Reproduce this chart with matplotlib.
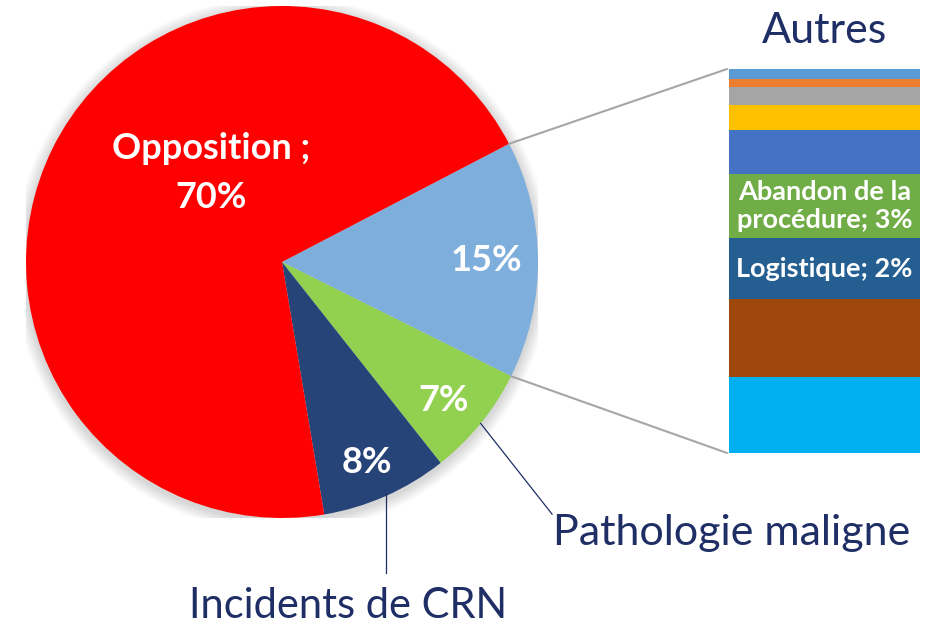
import matplotlib.pyplot as plt
import numpy as np
from matplotlib.patches import ConnectionPatch, Circle

plt.rcParams["font.family"] = ["Lato", "DejaVu Sans"]

# main pie, clockwise from the "Autres" wedge
pie_labels = ["Autres", "Pathologie maligne", "Incidents de CRN", "Opposition"]
pie_values = [15, 7, 8, 70]
pie_colors = ["#7eaedc", "#92d050", "#264478", "#ff0000"]

# breakdown of "Autres", stacked from the bottom up
bar_values = [2.95, 3.05, 2.4, 2.5, 1.7, 1.0, 0.7, 0.3, 0.4]
bar_colors = ["#00b0f0", "#9e480e", "#255e91", "#70ad47", "#4472c4",
              "#ffc000", "#a5a5a5", "#ed7d31", "#5b9bd5"]
bar_texts = ["", "", "Logistique; 2%", "Abandon de la\nprocédure; 3%",
             "", "", "", "", ""]

W, H = 939, 627
fig = plt.figure(figsize=(W / 100, H / 100), dpi=100)

# pie axes: centre (282, 262) px, radius 256 px
cx, cy, r = 282, 262, 256
ax = fig.add_axes([(cx - r) / W, (H - cy - r) / H, 2 * r / W, 2 * r / H])
wedges, _ = ax.pie(pie_values, colors=pie_colors, startangle=27.5,
                   counterclock=False, radius=1)
ax.set_xlim(-1, 1)
ax.set_ylim(-1, 1)
ax.set_aspect("equal")

# soft shadow
for k in range(8):
    ax.add_patch(Circle((0.0, -0.01), 1.0 + 0.006 * (k + 1), color="#000000",
                        alpha=0.018, zorder=0, lw=0))

def mid(w):
    return np.deg2rad((w.theta1 + w.theta2) / 2)

txt = dict(color="white", fontweight="bold", fontsize=26, ha="center", va="center")
for w, v, dist, dang in zip(wedges[:3], pie_values[:3], [0.80, 0.83, 0.85], [0, -1.5, -1]):
    a = mid(w) + np.deg2rad(dang)
    ax.text(dist * np.cos(a), dist * np.sin(a), f"{v}%", **txt)
a = np.deg2rad(128)
ax.text(0.46 * np.cos(a) + 0.005, 0.46 * np.sin(a) - 0.016,
        f"{pie_labels[3]} ;\n{pie_values[3]}%", linespacing=1.6, **txt)

# leader lines and outside labels
navy = "#1f2f66"
a_p = mid(wedges[1])
ax.plot([np.cos(a_p), 1.055], [np.sin(a_p), -0.985], color=navy, lw=0.9, clip_on=False)
ax.text(1.06, -1.06, pie_labels[1], color=navy, fontsize=31, ha="left", va="center")
a_i = mid(wedges[2])
ax.plot([np.cos(a_i), np.cos(a_i)], [np.sin(a_i) + 0.01, -1.215], color=navy, lw=0.9,
        clip_on=False)
ax.text(0.26, -1.345, pie_labels[2], color=navy, fontsize=30, ha="center", va="center")

# stacked bar for "Autres"
bl, br, bt, bb = 729, 920, 69, 453
ax2 = fig.add_axes([bl / W, (H - bb) / H, (br - bl) / W, (bb - bt) / H])
bottom = 0
for v, c, t in zip(bar_values, bar_colors, bar_texts):
    ax2.bar(0.5, v, width=1.0, bottom=bottom, color=c, lw=0)
    if t:
        ax2.text(0.5, bottom + v / 2, t, color="white", fontweight="bold",
                 fontsize=19.5, ha="center", va="center", linespacing=1.2)
    bottom += v
ax2.set_xlim(0, 1)
ax2.set_ylim(0, sum(bar_values))
ax2.axis("off")
ax2.text(0.5, sum(bar_values) + 1.5, pie_labels[0], color=navy, fontsize=31,
         ha="center", va="center")

# lines from the "Autres" wedge to the bar
t1, t2 = np.deg2rad(wedges[0].theta2), np.deg2rad(wedges[0].theta1)
for (px, py), yb in [((np.cos(t1), np.sin(t1)), sum(bar_values)),
                     ((np.cos(t2), np.sin(t2)), 0)]:
    con = ConnectionPatch(xyA=(px, py), coordsA=ax.transData,
                          xyB=(-0.01, yb), coordsB=ax2.transData,
                          color="#a6a6a6", lw=1.5)
    fig.add_artist(con)

fig.savefig("out.png", dpi=100)
